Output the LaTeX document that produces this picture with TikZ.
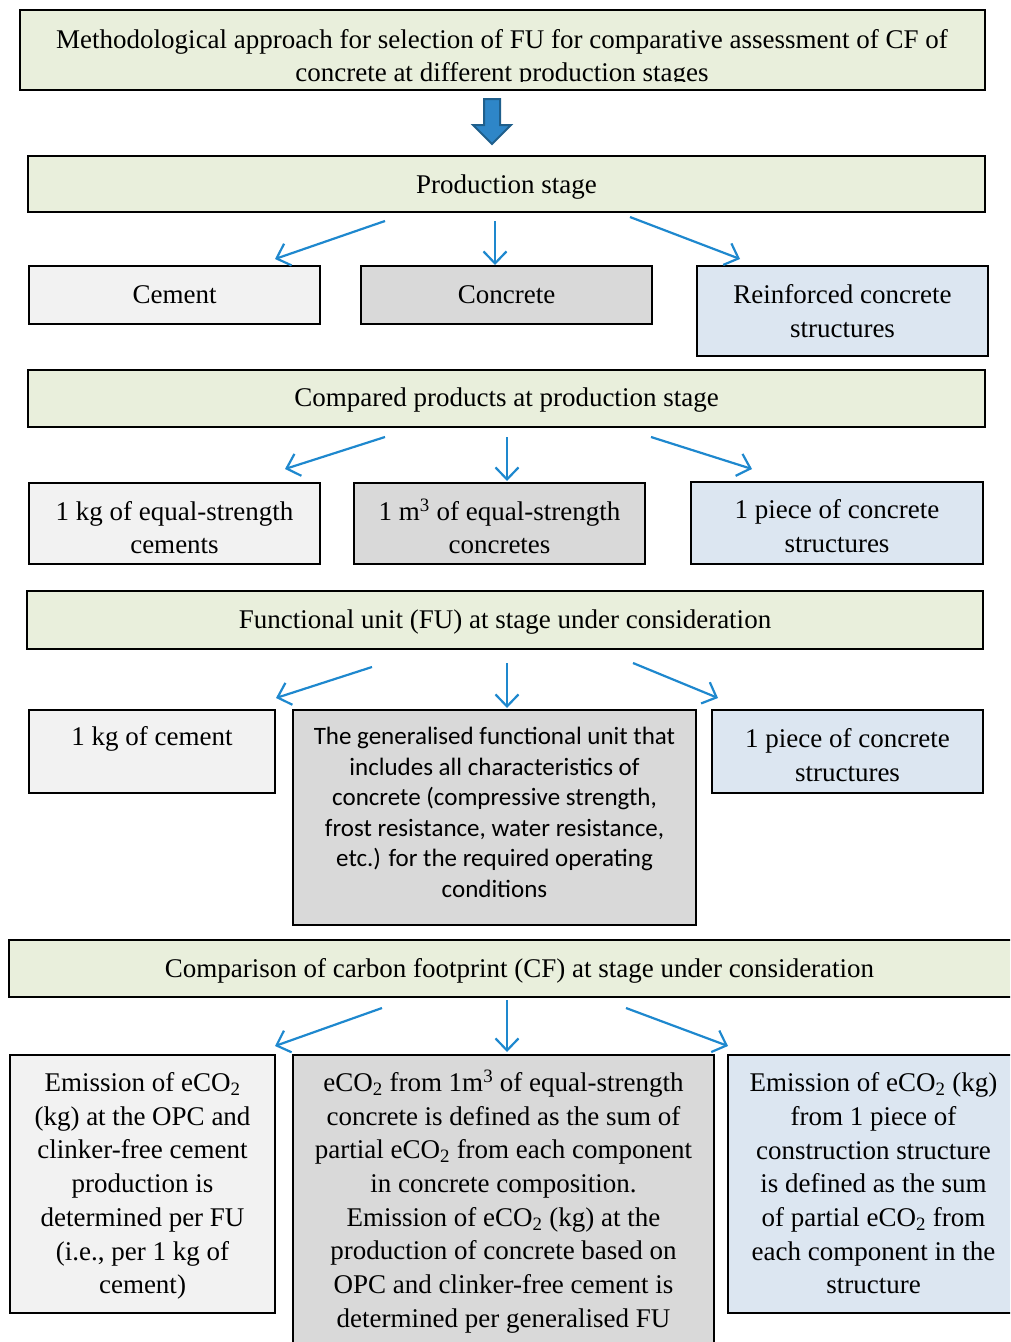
\documentclass[tikz,border=0pt]{standalone}
\usepackage{fontspec}
\setmainfont{Liberation Serif}
\newfontfamily\calib{Carlito}
\usetikzlibrary{arrows.meta,calc}
\definecolor{gfill}{RGB}{233,239,220}
\definecolor{lgfill}{RGB}{242,242,242}
\definecolor{dgfill}{RGB}{217,217,217}
\definecolor{bfill}{RGB}{220,230,241}
\definecolor{conncol}{RGB}{30,136,206}
\definecolor{bigfill}{RGB}{46,134,200}
\definecolor{bigdraw}{RGB}{31,95,140}
% box: name, x1, y1, x2, y2, style, text offset, text
\newcommand\bx[8]{%
  \node[boxbase,#6, minimum width={#4-#2}, minimum height={#5-#3}] (#1) at ({(#2+#4)/2},{(#3+#5)/2}) {};
  \node[txt,#6,fill=none,draw=none] (#1-t) at ($(#1.center)+(0,#7)$) {#8};}
\tikzset{
  boxbase/.style={rectangle, draw=black, line width=2pt, inner sep=0pt},
  txt/.style={inner sep=0pt, align=center, font=\fontsize{27}{33.7}\selectfont},
  green/.style={fill=gfill},
  lgray/.style={fill=lgfill},
  dgray/.style={fill=dgfill},
  lblue/.style={fill=bfill},
  sanstext/.style={font=\calib\fontsize{25}{30.5}\selectfont},
  conn/.style={draw=conncol, line width=2.2pt, -{Straight Barb[length=12pt,width=23pt,line width=2.2pt]}},
}
\begin{document}
\begin{tikzpicture}[x=1pt,y=-1pt]
\useasboundingbox (0,0) rectangle (1010,1342);
\clip (0,0) rectangle (1010,1342);
% title
\node[boxbase, green, minimum width=965, minimum height=80] (title) at (502.5,50) {};
\begin{scope}
\clip (20,10) rectangle (985,81);
\node[txt, anchor=north] (title-t) at (502,29) {Methodological approach for selection of FU for comparative assessment of CF of\\concrete at different production stages};
\end{scope}
% big arrow
\coordinate (bigtop) at ($(title.south)+(-10.5,8)$);
\draw[fill=bigfill, draw=bigdraw, line width=2pt, line join=miter]
  ($(bigtop)+(-8,0)$) -- ++(16,0) -- ++(0,26) -- ++(11,0) -- ($(bigtop)+(0,45)$) -- ($(bigtop)+(-19,26)$) -- ++(11,0) -- cycle;
% boxes
\bx{prod}{28}{156}{985}{212}{green}{3}{Production stage}
\bx{cement}{29}{266}{320}{324}{lgray}{0}{Cement}
\bx{concrete}{361}{266}{652}{324}{dgray}{0}{Concrete}
\bx{rcs}{697}{266}{988}{356}{lblue}{0}{Reinforced concrete\\structures}
\bx{compared}{28}{370}{985}{427}{green}{2}{Compared products at production stage}
\bx{kgcem}{29}{483}{320}{564}{lgray}{4}{1 kg of equal-strength\\cements}
\bx{mconc}{354}{483}{645}{564}{dgray}{3}{1 m\textsuperscript{3} of equal-strength\\concretes}
\bx{piece}{691}{482}{983}{564}{lblue}{3}{1 piece of concrete\\structures}
\bx{fu}{27}{591}{983}{649}{green}{2}{Functional unit (FU) at stage under consideration}
\bx{kg1}{29}{710}{275}{793}{lgray}{-13}{1 kg of cement}
\bx{gfu}{293}{710}{696}{925}{dgray,sanstext}{-5}{The generalised functional unit that\\includes all characteristics of\\concrete (compressive strength,\\frost resistance, water resistance,\\etc.) for the required operating\\conditions}
\bx{piece2}{712}{710}{983}{793}{lblue}{3.5}{1 piece of concrete\\structures}
\bx{cf}{9}{940}{1030}{997}{green}{2}{Comparison of carbon footprint (CF) at stage under consideration}
\bx{em1}{10}{1055}{275}{1313}{lgray}{2}{Emission of eCO\textsubscript{2}\\(kg) at the OPC and\\clinker-free cement\\production is\\determined per FU\\(i.e., per 1 kg of\\cement)}
\bx{em2}{293}{1055}{714}{1348}{dgray}{0}{eCO\textsubscript{2} from 1m\textsuperscript{3} of equal-strength\\concrete is defined as the sum of\\partial eCO\textsubscript{2} from each component\\in concrete composition.\\Emission of eCO\textsubscript{2} (kg) at the\\production of concrete based on\\OPC and clinker-free cement is\\determined per generalised FU}
\bx{em3}{728}{1055}{1019}{1313}{lblue}{-0.5}{Emission of eCO\textsubscript{2} (kg)\\from 1 piece of\\construction structure\\is defined as the sum\\of partial eCO\textsubscript{2} from\\each component in the\\structure}
% connectors
\coordinate (a1) at (385,221); \coordinate (a2) at (495,221); \coordinate (a3) at (630,217);
\coordinate (a1e) at (275,259); \coordinate (a2e) at (495,265); \coordinate (a3e) at (740,259);
\coordinate (b1) at (385,437); \coordinate (b2) at (507,437); \coordinate (b3) at (651,437);
\coordinate (b1e) at (285,469); \coordinate (b2e) at (507,481); \coordinate (b3e) at (752,469);
\coordinate (c1) at (372,667); \coordinate (c2) at (507,663); \coordinate (c3) at (633,663);
\coordinate (c1e) at (276,698); \coordinate (c2e) at (507,708); \coordinate (c3e) at (718,698);
\coordinate (d1) at (382,1008); \coordinate (d2) at (507,1000); \coordinate (d3) at (626,1008);
\coordinate (d1e) at (275,1046); \coordinate (d2e) at (507,1052); \coordinate (d3e) at (728,1046);
\foreach \r in {a,b,c,d}{
  \foreach \i in {1,2,3}{
    \draw[conn] (\r\i) -- (\r\i e);
  }
}
\end{tikzpicture}
\end{document}
